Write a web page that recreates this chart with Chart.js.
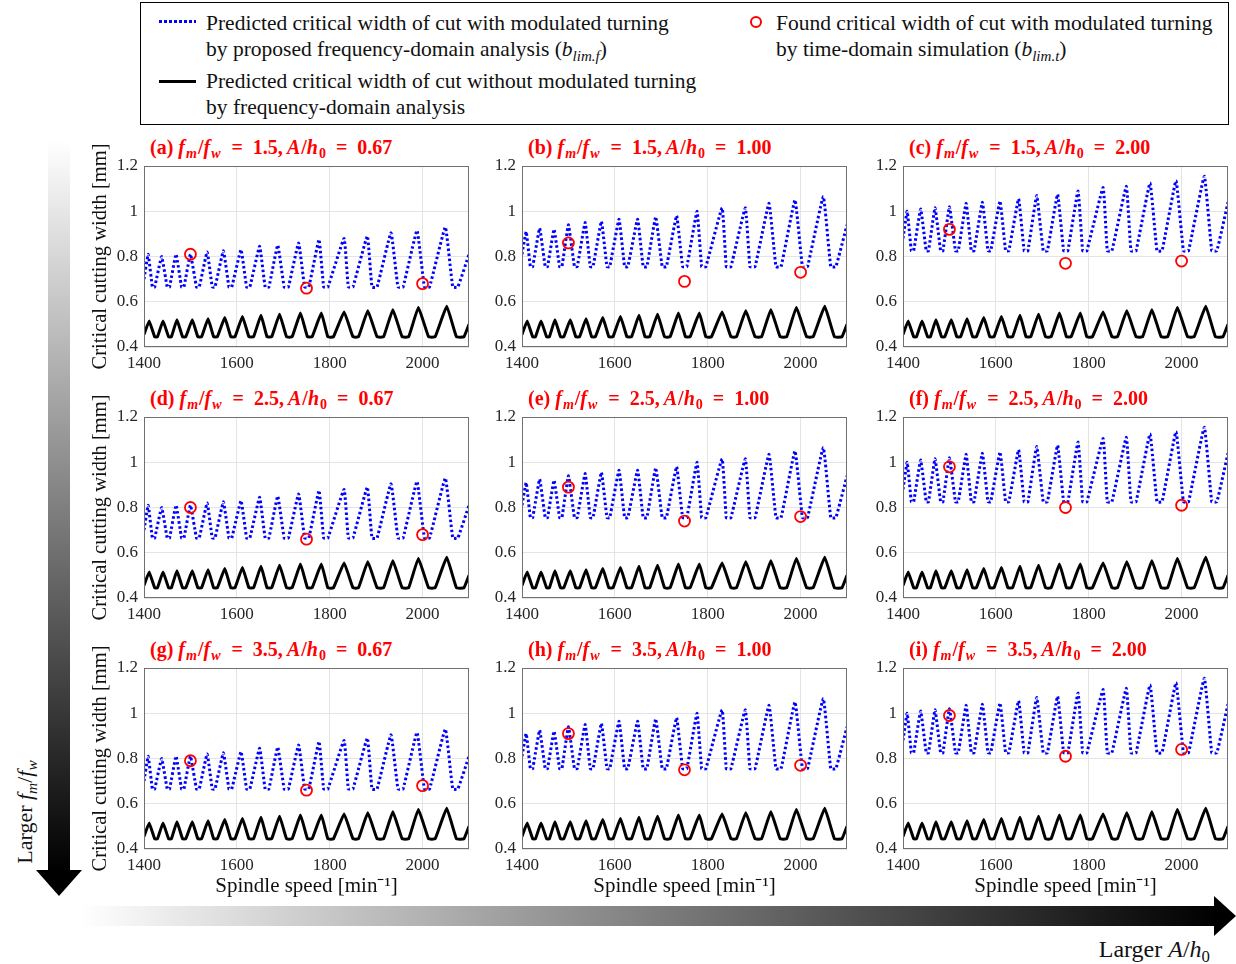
<!DOCTYPE html>
<html>
<head>
<meta charset="utf-8">
<title>Critical width of cut with / without modulated turning</title>
<script src="https://cdn.jsdelivr.net/npm/chart.js@4.4.1/dist/chart.umd.min.js"></script>
<style>
  html, body { margin: 0; padding: 0; background: #fff; }
  body { position: relative; width: 1236px; height: 964px; overflow: hidden;
         font-family: "Liberation Serif", "Times New Roman", serif; color: #111; }
  .abs { position: absolute; }
  .legend { left: 140px; top: 2px; width: 1089px; height: 123px; border: 1.5px solid #000; box-sizing: border-box; }
  .lg { position: absolute; font-size: 21.5px; line-height: 26px; white-space: nowrap; }
  sub { font-size: 70%; line-height: 0; vertical-align: -0.3em; }
  .ptitle { position: absolute; color: #ff0000; font-size: 20px; font-weight: bold; line-height: 24px; white-space: nowrap; }
  .ptitle i { padding-right: 1px; }
</style>
</head>
<body>

<div class="abs legend">
  <div class="abs" style="left:18px; top:17px; width:37px; height:3px; background: repeating-linear-gradient(90deg, #0000ff 0 2.5px, transparent 2.5px 5px);"></div>
  <div class="lg" style="left:65px; top:7px;">Predicted critical width of cut with modulated turning</div>
  <div class="lg" style="left:65px; top:33px;">by proposed frequency-domain analysis (<i>b</i><sub><i>lim.f</i></sub>)</div>
  <div class="abs" style="left:18px; top:77px; width:37px; height:3px; background:#000;"></div>
  <div class="lg" style="left:65px; top:65px;">Predicted critical width of cut without modulated turning</div>
  <div class="lg" style="left:65px; top:91px;">by frequency-domain analysis</div>
  <div class="abs" style="left:609px; top:13px; width:8px; height:8px; border:2px solid #ff0000; border-radius:50%;"></div>
  <div class="lg" style="left:635px; top:7px;">Found critical width of cut with modulated turning</div>
  <div class="lg" style="left:635px; top:33px;">by time-domain simulation (<i>b</i><sub><i>lim.t</i></sub>)</div>
</div>

<!-- direction arrows -->
<div class="abs" style="left:48px; top:140px; width:22px; height:732px; background: linear-gradient(to bottom, #fff, #000);"></div>
<div class="abs" style="left:36px; top:870px; width:0; height:0; border-left:23px solid transparent; border-right:23px solid transparent; border-top:26px solid #000;"></div>
<div class="abs" style="left:-50px; top:799px; width:150px; height:26px; font-size:22px; line-height:26px; text-align:center; transform: rotate(-90deg);">Larger <i>f</i><sub><i>m</i></sub>/<i>f</i><sub><i>w</i></sub></div>

<div class="abs" style="left:80px; top:906px; width:1136px; height:20px; background: linear-gradient(to right, #fff, #000);"></div>
<div class="abs" style="left:1214px; top:896px; width:0; height:0; border-top:20px solid transparent; border-bottom:20px solid transparent; border-left:22px solid #000;"></div>
<div class="abs" style="left:1030px; top:935px; width:180px; font-size:24px; line-height:28px; text-align:right;">Larger <i>A</i>/<i>h</i><sub>0</sub></div>

<script>
// ---- data ----
const speedMin = 1400, speedMax = 2100;
const xTicks = [1400, 1600, 1800, 2000];
const yTicks = [0.4, 0.6, 0.8, 1, 1.2];

// rows: f_m/f_w, columns: A/h0
const fmRatio = ['1.5', '2.5', '3.5'];
const ampRatio = ['0.67', '1.00', '2.00'];
const panelLetters = ['a', 'b', 'c', 'd', 'e', 'f', 'g', 'h', 'i'];

// predicted b_lim,f (blue dotted): lobe peaks, and the rounded bottom of each lobe
// (same in every row, height depends on A/h0)
const bluePeakSpeed = [1409, 1438, 1469, 1500, 1536, 1571, 1609, 1649, 1688, 1733, 1777, 1831, 1881, 1932, 1988, 2049];
const blueFloorFrom = [1418, 1450, 1481, 1513, 1547, 1583, 1621, 1661, 1702, 1746, 1787, 1840, 1891, 1947, 2004, 2065];
const blueFloorTo = [1423, 1455, 1486, 1519, 1553, 1589, 1628, 1669, 1711, 1755, 1796, 1850, 1902, 1958, 2015, 2076];
const bluePeak067 = [0.81, 0.80, 0.81, 0.81, 0.82, 0.825, 0.83, 0.845, 0.85, 0.86, 0.875, 0.88, 0.89, 0.905, 0.915, 0.93];
const bluePeak100 = [0.91, 0.925, 0.92, 0.94, 0.95, 0.955, 0.965, 0.965, 0.975, 0.98, 1.0, 1.015, 1.015, 1.035, 1.05, 1.065];
const bluePeak200 = [1.0, 1.01, 1.015, 1.02, 1.035, 1.04, 1.045, 1.055, 1.07, 1.075, 1.09, 1.105, 1.11, 1.125, 1.135, 1.155];
const blueFloor = [0.665, 0.755, 0.825];
const blueAt1400 = [0.70, 0.81, 0.88];
const blueAt2100 = [0.81, 0.94, 1.04];

// predicted without modulation (black solid)
const blackPeakSpeed = [1411, 1441, 1471, 1504, 1538, 1574, 1612, 1652, 1692, 1737, 1782, 1831, 1882, 1936, 1991, 2052];
const blackFloorFrom = [1423, 1453, 1483, 1516, 1550, 1587, 1626, 1665, 1707, 1752, 1796, 1850, 1902, 1956, 2013, 2073];
const blackFloorTo = [1429, 1459, 1490, 1524, 1558, 1596, 1636, 1675, 1719, 1762, 1808, 1862, 1916, 1970, 2027, 2089];
const blackPeak = [0.515, 0.515, 0.52, 0.52, 0.525, 0.53, 0.535, 0.54, 0.545, 0.55, 0.55, 0.555, 0.56, 0.565, 0.575, 0.58];
const blackFloor = 0.445;
const blackAt1400 = 0.455, blackAt2100 = 0.50;

// time-domain simulation (red circles)
const simSpeed = [1500, 1750, 2000];
const simA = [0.81, 0.66, 0.68];
const simB = [0.86, 0.69, 0.73];
const simC = [0.92, 0.77, 0.78];
const simD = [0.80, 0.66, 0.68];
const simE = [0.89, 0.74, 0.76];
const simF = [0.98, 0.80, 0.81];
const simG = [0.79, 0.66, 0.68];
const simH = [0.91, 0.75, 0.77];
const simI = [0.99, 0.81, 0.84];
const simWidths = [simA, simB, simC, simD, simE, simF, simG, simH, simI];
const bluePeaks = [bluePeak067, bluePeak100, bluePeak200];

// ---- layout ----
const colLeft = [144, 522, 903];
const rowTop = [166, 417, 668];
const plotW = 325, plotH = 181, yAxisW = 60, padTop = 30, padRight = 10;

Chart.defaults.font.family = '"Liberation Serif", "Times New Roman", serif';
Chart.defaults.color = '#262626';

function lobeLine(start, peakX, peakY, floorFrom, floorTo, floorY, end) {
  const pts = [{ x: speedMin, y: start }];
  for (let i = 0; i < peakX.length; i++) {
    pts.push({ x: peakX[i], y: peakY[i] });
    pts.push({ x: floorFrom[i], y: floorY });
    pts.push({ x: floorTo[i], y: floorY });
  }
  pts.push({ x: speedMax, y: end });
  return pts;
}

// box around the axes (MATLAB "box on")
const frame = {
  id: 'frame',
  afterDatasetsDraw(chart) {
    const { ctx, chartArea: a } = chart;
    ctx.save();
    ctx.strokeStyle = '#707070';
    ctx.lineWidth = 1;
    ctx.strokeRect(a.left + 0.5, a.top + 0.5, a.right - a.left - 1, a.bottom - a.top - 1);
    ctx.restore();
  }
};

panelLetters.forEach((letter, k) => {
  const row = Math.floor(k / 3), col = k % 3;
  const xH = row === 2 ? 62 : 32;

  // panel title
  const t = document.createElement('div');
  t.className = 'ptitle';
  t.style.left = (colLeft[col] + 6) + 'px';
  t.style.top = (rowTop[row] - 31) + 'px';
  t.innerHTML = '(' + letter + ') <i>f</i><sub><i>m</i></sub>/<i>f</i><sub><i>w</i></sub>&ensp;=&ensp;' + fmRatio[row] +
    ',&thinsp;<i>A</i>/<i>h</i><sub>0</sub>&ensp;=&ensp;' + ampRatio[col];
  document.body.appendChild(t);

  const cv = document.createElement('canvas');
  cv.width = yAxisW + plotW + padRight;
  cv.height = padTop + plotH + xH;
  cv.style.position = 'absolute';
  cv.style.left = (colLeft[col] - yAxisW) + 'px';
  cv.style.top = (rowTop[row] - padTop) + 'px';
  document.body.appendChild(cv);

  new Chart(cv, {
    type: 'line',
    data: {
      datasets: [
        {
          label: 'Found critical width (time-domain simulation)',
          data: simSpeed.map((s, i) => ({ x: s, y: simWidths[k][i] })),
          showLine: false,
          pointStyle: 'circle',
          pointRadius: 5.5,
          pointBorderWidth: 1.8,
          pointBorderColor: '#ff0000',
          pointBackgroundColor: 'rgba(0,0,0,0)',
          borderColor: '#ff0000'
        },
        {
          label: 'Predicted with modulated turning',
          data: lobeLine(blueAt1400[col], bluePeakSpeed, bluePeaks[col], blueFloorFrom, blueFloorTo, blueFloor[col], blueAt2100[col]),
          borderColor: '#0000ff',
          borderWidth: 3,
          borderDash: [2.5, 2.5],
          borderCapStyle: 'butt',
          pointRadius: 0,
          tension: 0.1
        },
        {
          label: 'Predicted without modulated turning',
          data: lobeLine(blackAt1400, blackPeakSpeed, blackPeak, blackFloorFrom, blackFloorTo, blackFloor, blackAt2100),
          borderColor: '#000',
          borderWidth: 3,
          borderJoinStyle: 'round',
          pointRadius: 0,
          tension: 0.1
        }
      ]
    },
    options: {
      responsive: false,
      animation: false,
      events: [],
      layout: { padding: { top: padTop, right: padRight, left: 0, bottom: 0 } },
      plugins: { legend: { display: false }, tooltip: { enabled: false } },
      scales: {
        x: {
          type: 'linear',
          min: speedMin,
          max: speedMax,
          afterBuildTicks: s => { s.ticks = xTicks.map(v => ({ value: v })); },
          afterFit: s => { s.height = xH; },
          grid: { color: '#e4e4e4', lineWidth: 1, drawTicks: false },
          border: { display: false },
          ticks: { padding: 6, maxRotation: 0, font: { size: 17 }, callback: v => String(v) },
          title: {
            display: row === 2,
            text: 'Spindle speed [min⁻¹]',
            color: '#111',
            font: { size: 21 },
            padding: { top: 0, bottom: 12 }
          }
        },
        y: {
          min: 0.4,
          max: 1.2,
          afterBuildTicks: s => { s.ticks = yTicks.map(v => ({ value: v })); },
          afterFit: s => { s.width = yAxisW; },
          grid: { color: '#e4e4e4', lineWidth: 1, drawTicks: false },
          border: { display: false },
          ticks: { padding: 6, font: { size: 17 }, callback: v => String(v) },
          title: {
            display: col === 0,
            text: 'Critical cutting width [mm]',
            color: '#111',
            font: { size: 20.5 },
            padding: { top: 4, bottom: 0 }
          }
        }
      }
    },
    plugins: [frame]
  });
});
</script>
</body>
</html>
